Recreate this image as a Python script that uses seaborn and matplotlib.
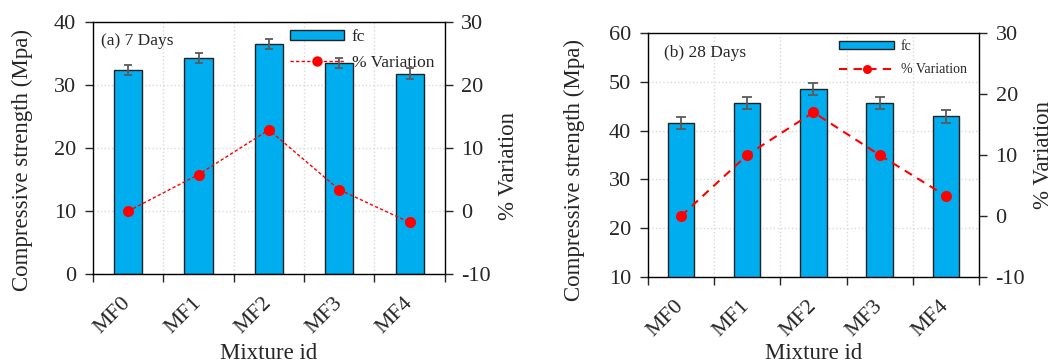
import numpy as np
import matplotlib
matplotlib.use("Agg")
import matplotlib.pyplot as plt
import seaborn as sns
from matplotlib.patches import Patch
from matplotlib.lines import Line2D
from matplotlib.ticker import MultipleLocator, FixedLocator
from matplotlib.transforms import ScaledTranslation

mixtures = ["MF0", "MF1", "MF2", "MF3", "MF4"]
fc_7 = [32.4, 34.3, 36.6, 33.5, 31.8]
err_7 = [0.85, 0.85, 0.8, 0.85, 0.85]
var_7 = [0.0, 5.8, 12.9, 3.4, -1.8]
fc_28 = [41.6, 45.7, 48.6, 45.7, 42.9]
err_28 = [1.25, 1.2, 1.25, 1.2, 1.25]
var_28 = [0.0, 10.0, 17.0, 10.0, 3.3]

sns.set_style("white")
plt.rcParams["font.family"] = ["Liberation Serif", "DejaVu Serif"]
plt.rcParams["axes.unicode_minus"] = False

BAR = "#00AEEF"
fig = plt.figure(figsize=(10.64, 3.63), dpi=100)
ax1 = fig.add_axes([0.0874, 0.245, 0.3306, 0.694])
ax2 = fig.add_axes([0.609, 0.237, 0.311, 0.672])


def panel(ax, fc, err, var, ylim, title, legsize, lstyle, lw, legms, capsize,
          leg_anchor, hlen, lspace, title_xy, lab_xy, rlab_xy, xlab_y, xoff):
    sns.barplot(x=mixtures, y=fc, ax=ax, color=BAR, width=0.4, edgecolor="#222222",
                linewidth=1.0, saturation=1, errorbar=None, zorder=2)
    xs = np.arange(len(mixtures))
    ax.errorbar(xs, fc, yerr=err, fmt="none", ecolor="#5a5a5a", elinewidth=1.3,
                capsize=capsize, capthick=1.3, zorder=3)
    ax.set_ylim(*ylim)
    ax.set_xlim(-0.5, len(mixtures) - 0.5)
    ax.yaxis.set_major_locator(MultipleLocator(10))
    ax.set_xticks(xs)
    ax.set_xticklabels(mixtures, rotation=45, ha="right", va="center",
                       rotation_mode="anchor", fontsize=16)
    off = ScaledTranslation(xoff / 100, 0, fig.dpi_scale_trans)
    for lab in ax.get_xticklabels():
        lab.set_transform(lab.get_transform() + off)
    ax.xaxis.set_minor_locator(FixedLocator(np.arange(-0.5, len(mixtures), 1.0)))
    ax.tick_params(axis="x", which="major", length=0, pad=19)
    ax.tick_params(axis="x", which="minor", length=6, width=1, direction="out", bottom=True)
    ax.tick_params(axis="y", which="major", length=6, width=1, direction="out",
                   labelsize=16, left=True, pad=6)
    ax.grid(False)
    ax.yaxis.grid(True, color="#d9d9d9", linestyle=":", linewidth=1)
    ax.xaxis.grid(True, which="minor", color="#d9d9d9", linestyle=":", linewidth=1)
    ax.set_axisbelow(True)
    for s in ax.spines.values():
        s.set_visible(True)
        s.set_color("black")
        s.set_linewidth(1.0)
    ax.set_xlabel("Mixture id", fontsize=16.5)
    ax.xaxis.set_label_coords(0.5, xlab_y)
    ax.set_ylabel("Compressive strength (Mpa)", fontsize=16.5)
    ax.yaxis.set_label_coords(*lab_xy)
    ax.text(title_xy[0], title_xy[1], title, transform=ax.transAxes, fontsize=12.5,
            va="center", ha="left")

    axr = ax.twinx()
    sns.lineplot(x=xs, y=var, ax=axr, color="red", linestyle=lstyle, linewidth=lw,
                 marker="o", markersize=8, markeredgewidth=0, zorder=4)
    axr.set_ylim(-10, 30)
    axr.yaxis.set_major_locator(MultipleLocator(10))
    axr.tick_params(axis="y", length=6, width=1, direction="out", labelsize=16,
                    right=True, pad=6)
    axr.set_ylabel("% Variation", fontsize=16.5)
    axr.yaxis.set_label_coords(*rlab_xy)
    axr.grid(False)
    for s in axr.spines.values():
        s.set_visible(False)
    ax.set_xlim(-0.5, len(mixtures) - 0.5)

    handles = [Patch(facecolor=BAR, edgecolor="#222222", linewidth=1.0),
               Line2D([], [], color="red", linestyle=lstyle, linewidth=lw, marker="o",
                      markersize=legms, markeredgewidth=0)]
    axr.legend(handles, ["fc", "% Variation"], loc="upper left", bbox_to_anchor=leg_anchor,
               frameon=False, fontsize=legsize, handlelength=hlen,
               handleheight=0.5, labelspacing=lspace, handletextpad=0.45, borderaxespad=0)
    return axr


panel(ax1, fc_7, err_7, var_7, (0, 40), "(a) 7 Days", 12.5, (0, (2.4, 1.6)), 1.0, 7.5, 3,
      (0.54, 1.0), 3.1, 0.55, (0.022, 0.925), (-0.17, 0.452), (1.1506, 0.43), -0.272, 9)
panel(ax2, fc_28, err_28, var_28, (10, 60), "(b) 28 Days", 10, (0, (4, 3)), 1.5, 6.5, 3.6,
      (0.56, 0.995), 4.0, 0.75, (0.048, 0.92), (-0.19, 0.44), (1.163, 0.5), -0.272, 6)

fig.savefig("out.png", dpi=100)
